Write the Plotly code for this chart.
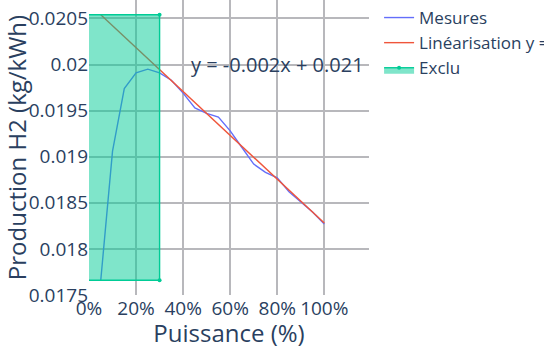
import plotly.graph_objects as go

# Mesures (puissance en fraction, production en kg/kWh)
puissance = [0.05, 0.10, 0.15, 0.20, 0.25, 0.30, 0.35, 0.40, 0.45, 0.50,
             0.55, 0.60, 0.65, 0.70, 0.75, 0.80, 0.85, 0.90, 0.95, 1.00]
production = [0.01766, 0.01906, 0.01974, 0.01991, 0.01995, 0.01991, 0.01983, 0.01969, 0.01953, 0.01947,
              0.01943, 0.01928, 0.01910, 0.01892, 0.01883, 0.01877, 0.01862, 0.01851, 0.01840, 0.01827]

# Droite de linéarisation
lin_x = [0.05, 1.00]
lin_y = [0.02054, 0.01828]
equation = "y = -0.002x + 0.021"

# Zone exclue
exclu_x = [-0.05, 0.3, 0.3, -0.05, -0.05]
exclu_y = [0.02054, 0.02054, 0.01766, 0.01766, 0.02054]

fig = go.Figure()

fig.add_trace(go.Scatter(x=puissance, y=production, mode='lines', name='Mesures',
                         line=dict(color='#636efa', width=1.4)))
fig.add_trace(go.Scatter(x=lin_x, y=lin_y, mode='lines', name='Linéarisation ' + equation,
                         line=dict(color='#EF553B', width=1.4)))
fig.add_trace(go.Scatter(x=exclu_x, y=exclu_y, mode='lines+markers', name='Exclu',
                         fill='toself', line=dict(color='#00cc96', width=1.4),
                         marker=dict(size=4)))

fig.add_annotation(x=0.8, y=0.02, text=equation, showarrow=False,
                   font=dict(size=20))

fig.update_layout(
    template='none',
    width=544, height=349,
    font=dict(family='Open Sans', size=19, color='#2a3f5f'),
    plot_bgcolor='white',
    paper_bgcolor='white',
    xaxis=dict(title=dict(text='Puissance (%)', font=dict(size=24)),
               tickformat='.0%', range=[0, 1.19], dtick=0.2, tickangle=0,
               showgrid=True, gridcolor='#b8b8bc', gridwidth=1.5,
               zeroline=False, showline=False, ticks=''),
    yaxis=dict(title=dict(text='Production H2 (kg/kWh)', font=dict(size=24)),
               range=[0.0175, 0.0207], dtick=0.0005, ticklabeloverflow='allow',
               showgrid=True, gridcolor='#b8b8bc', gridwidth=1.5,
               zeroline=False, showline=False, ticks=''),
    legend=dict(x=1.036, y=1.0, xanchor='left', yanchor='top', font=dict(size=17)),
    margin=dict(l=89, r=175, t=0, b=54, autoexpand=False),
)

# page sans marge pour que la figure occupe toute la fenêtre
fig.write_html("out.html", config={'displayModeBar': False},
               post_script="document.body.style.margin='0px';")
